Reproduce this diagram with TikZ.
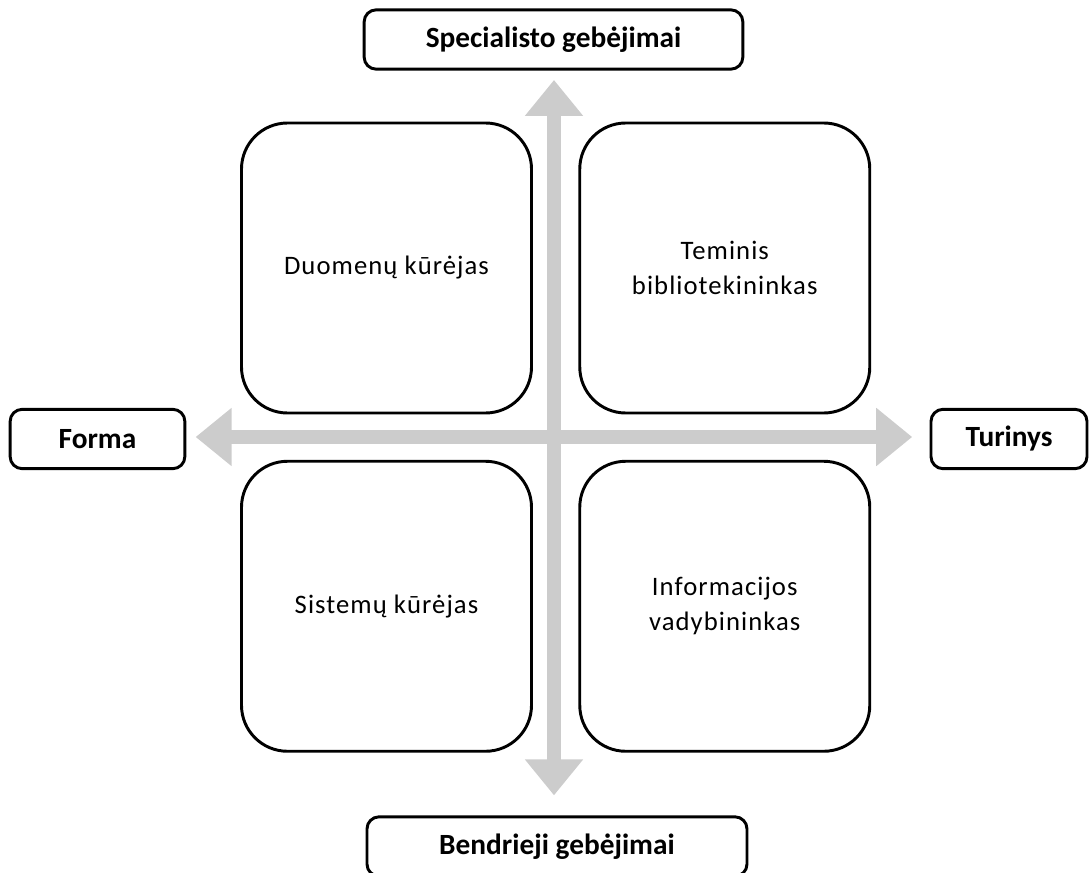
\documentclass[tikz,border=0pt]{standalone}
\usepackage{fontspec}
\setmainfont{Carlito}
\newfontfamily\rolefont[LetterSpace=4]{Carlito}
\usepackage{tikz}
\usetikzlibrary{positioning,arrows.meta}
\definecolor{axisgray}{HTML}{CCCCCC}
\tikzstyle{axis} = [draw=axisgray, line width=10.5pt,
                    {Triangle[length=27pt, width=42pt]}-{Triangle[length=27pt, width=42pt]}]

\begin{document}
\begin{tikzpicture}[
			x=0.75pt, y=-0.75pt,
			role/.style={
					rectangle,
					draw=black,
					line width=2.2pt,
					rounded corners=34.5pt,
					fill=white,
					minimum width=217.5pt,
					minimum height=217.5pt,
					align=center,
					font=\rolefont\fontsize{20}{26}\selectfont,
				},
			pole/.style={
					rectangle,
					draw=black,
					line width=2.2pt,
					rounded corners=9pt,
					fill=white,
					minimum height=44.5pt,
					font=\fontsize{22}{26}\selectfont\bfseries,
				}
		]
		\useasboundingbox (0,0) rectangle (1092,873);

		% Quadrant roles
		\node[role] (duomenu) at (386.5,268) {Duomenų kūrėjas};
		\node[role, right=34pt of duomenu] (teminis) {Teminis\\bibliotekininkas};
		\node[role, below=34pt of duomenu] (sistemu) {Sistemų kūrėjas};
		\node[role, below=34pt of teminis] (informacijos) {Informacijos\\vadybininkas};

		% Axis poles
		\node[pole, minimum width=284pt] (specialisto) at (553.5,39.5) {Specialisto gebėjimai};
		\node[pole, minimum width=285pt] (bendrieji) at (557,846.5) {Bendrieji gebėjimai};
		\node[pole, minimum width=131pt] (forma) at (97.5,439) {Forma};
		\node[pole, minimum width=117pt] (turinys) at (1009,439) {Turinys};

		% Axes
		\draw[axis, shorten <=15pt, shorten >=7pt] (bendrieji.north -| 554,0) -- (specialisto.south -| 554,0);
		\draw[axis, shorten <=7pt, shorten >=13pt] (forma.east |- 0,437) -- (turinys.west |- 0,437);

	\end{tikzpicture}
\end{document}
